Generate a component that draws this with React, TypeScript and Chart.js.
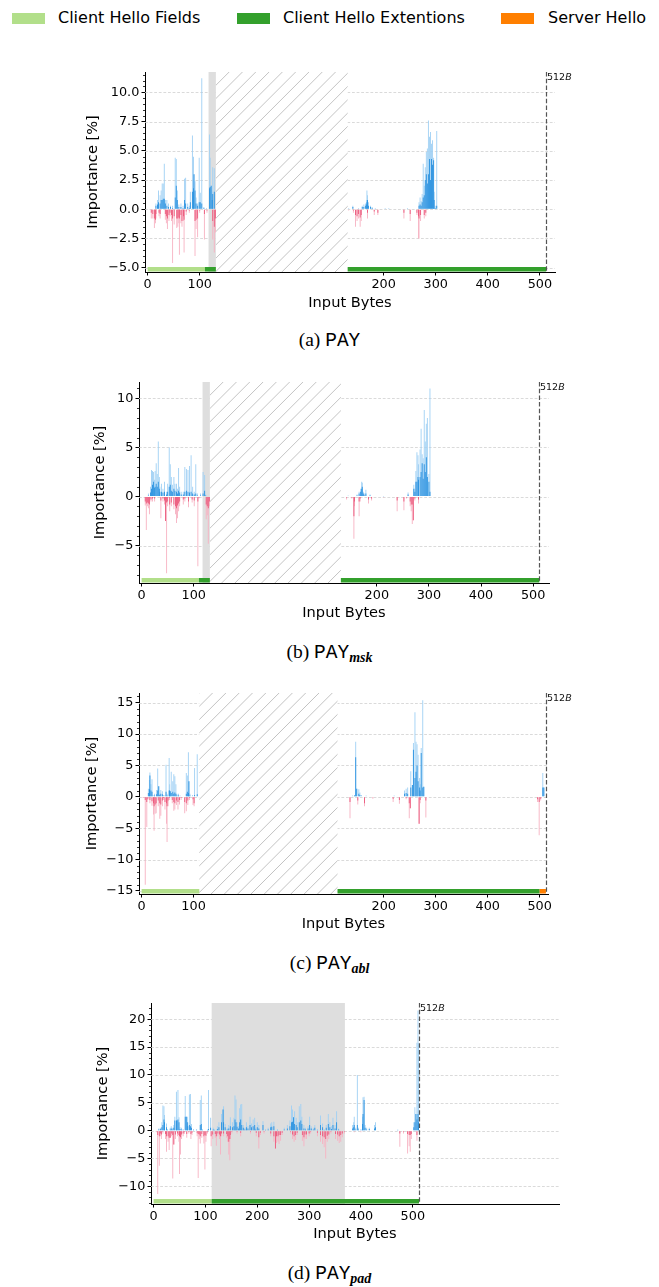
import React, { useEffect, useRef } from 'react';
import { Chart, registerables } from 'chart.js';
Chart.register(...registerables);

const FONT = "'DejaVu Sans', sans-serif";
const TICK_SIZE = 12.8;
const TITLE_SIZE = 14.6;
const C_FIELDS = '#b2df8a';
const C_EXT = '#33a02c';
const C_SERVER = '#ff7f00';
const POS_LIGHT = '#9fd0f4';
const POS_DARK = '#2a92e0';
const NEG_LIGHT = '#f7b2c2';
const NEG_DARK = '#ec5a7d';

const LEGEND_LABELS = ['Client Hello Fields', 'Client Hello Extentions', 'Server Hello'];
const LEGEND_COLORS = [C_FIELDS, C_EXT, C_SERVER];
const X_TICK_BYTES = [0, 100, 200, 300, 400, 500];
const X_TICK_LABELS = ['0', '100', '200', '300', '400', '500'];
const X_MIN = -5;
const X_MAX = 782;
const LIMIT_BYTE = 512;

// ---------- (a) PAY ----------
const aPosBytes = [16,19,21,24,26,28,30,32,34,37,40,44,48,53,55,57,60,64,68,71,73,77,80,82,86,88,89,91,93,96,99,101,104,108,113,119,120,122,124,125,128,
  133,141,152,159,162,165,167,168,169,171,175,178,184,203,210,246,268,270,272,274,276,278,280,282,284,286,288,290,292,294,296,297,299,302];
const aPosLight = [0.5,0.8,1.6,1.2,1.6,2.2,2.2,3.9,0.8,0.8,0.5,0.3,0.3,4.4,4.3,1.6,0.4,0.5,0.3,2.6,2.7,0.5,0.3,1.5,6.3,4.5,3.0,2.4,1.0,0.5,4.4,1.4,11.2,0.2,0.1,6.4,4.4,2.0,1.5,3.6,3.5,
  0.1,0.3,0.1,0.3,0.4,0.5,0.8,1.6,1.2,0.6,0.3,0.2,0.1,0.1,0.1,0.1,0.6,1.0,0.7,1.3,3.9,2.0,3.6,4.9,5.2,7.6,6.2,6.6,5.6,5.9,4.4,1.5,0.3,6.7];
const aPosDark = [0.3,0.4,0.6,0.5,0.8,0.8,0.9,0.9,0.5,0.3,0.2,0.2,0.1,1.0,2.0,0.8,0.2,0.2,0.1,0.8,0.5,0.2,0.1,0.6,1.5,1.8,3.0,1.6,0.5,0.3,0.6,0.6,0.5,0.1,0,1.8,1.9,2.0,0.8,1.3,1.5,
  0.05,0.2,0.05,0.2,0.2,0.3,0.4,0.6,0.8,0.3,0.2,0.1,0.05,0.05,0.05,0.05,0.3,0.4,0.3,0.6,1.0,1.2,2.5,3.0,2.2,3.0,4.3,2.5,4.3,3.8,4.2,0.8,0.1,0.3];
const aNegBytes = [7,10,13,15,16,22,24,34,36,38,41,43,46,48,51,56,58,60,61,64,66,69,70,74,80,91,93,96,100,109,114,125,128,130,
  133,142,146,149,152,155,157,169,182,189,239,251,264,267,268,271,278,281];
const aNegLight = [-0.8,-0.8,-1.6,-1.2,-0.8,-0.6,-0.8,-0.9,-1.2,-1.7,-1.0,-0.6,-1.0,-4.6,-1.3,-1.6,-1.5,-1.2,-3.9,-1.2,-1.5,-1.0,-3.7,-0.5,-0.3,-4.0,-1.7,-2.4,-0.3,-2.6,-0.3,-2.6,-3.7,-2.0,
  -0.1,-0.3,-1.5,-1.0,-0.8,-1.5,-1.0,-0.8,-0.5,-0.5,-0.8,-1.0,-0.5,-2.5,-2.5,-1.0,-0.8,-0.6];
const aNegDark = [-0.3,-0.4,-0.8,-0.9,-0.4,-0.3,-0.4,-0.4,-0.6,-0.8,-0.5,-0.3,-0.5,-0.8,-0.6,-0.8,-0.8,-0.7,-0.8,-0.5,-1.0,-0.6,-0.9,-0.2,-0.1,-1.0,-0.9,-0.8,-0.1,-0.4,-0.1,-1.0,-1.5,-0.8,
  -0.05,-0.1,-0.5,-0.6,-0.4,-0.7,-0.5,-0.3,-0.2,-0.3,-0.3,-0.4,-0.3,-0.6,-0.8,-0.5,-0.5,-0.3];
const aYTicks = [-5, -2.5, 0, 2.5, 5, 7.5, 10];
const aYLabels = ['\u22125.0', '\u22122.5', '0.0', '2.5', '5.0', '7.5', '10.0'];
const aYRange = [-5.37, 11.74];
const aBands = [[0, 110, C_FIELDS], [110, 131, C_EXT], [131, 512, C_EXT]];

// ---------- (b) PAY_msk ----------
const bPosBytes = [13,17,19,21,23,25,26,28,30,32,34,35,38,41,44,48,50,53,55,57,59,62,64,67,69,71,73,76,80,83,86,89,92,95,98,101,104,107,113,118,121,123,
  145,162,166,169,171,172,174,176,179,187,213,260,271,273,275,277,279,280,283,285,287,289,291,293,295,297,300,302];
const bPosLight = [0.3,1.0,2.7,2.6,2.5,1.7,2.6,3.4,2.3,5.6,2.0,1.0,1.3,0.8,1.5,0.5,1.3,5.0,3.3,2.0,1.2,2.0,1.3,1.3,0.8,2.9,1.0,0.5,0.5,3.0,2.8,2.7,3.1,4.2,1.0,0.5,3.3,0.3,0.3,2.5,2.2,0.2,
  0.1,0.2,0.5,0.8,1.5,1.4,0.5,0.3,0.7,0.2,0.05,0.4,1.2,0.8,2.6,4.5,4.2,3.3,4.8,6.9,4.3,3.9,8.8,5.6,7.4,8.0,2.3,11.0];
const bPosDark = [0.1,0.4,0.8,1.2,1.5,0.9,1.0,1.3,1.0,1.5,0.8,0.5,0.5,0.4,0.5,0.2,0.5,1.0,1.2,0.6,0.5,0.8,0.6,0.5,0.3,0.6,0.4,0.2,0.2,0.5,0.6,0.5,0.4,0.5,0.3,0.2,0.3,0.1,0.1,0.3,0.6,0.1,
  0.05,0.1,0.3,0.5,0.8,1.0,0.3,0.1,0.3,0.1,0.02,0.2,0.8,0.5,1.5,1.5,2.0,1.7,2.0,2.5,3.4,1.8,3.3,2.5,4.0,2.0,1.5,0.5];
const bNegBytes = [7,9,11,13,15,18,21,25,37,41,44,46,48,50,54,57,62,65,67,69,71,73,80,83,90,97,101,108,110,124,126,128,130,
  142,152,156,157,166,168,184,190,213,239,252,257,264,266,268,270,273,280];
const bNegLight = [-0.9,-3.4,-1.0,-1.2,-1.8,-0.5,-0.5,-0.5,-2.2,-0.5,-0.8,-2.5,-7.8,-1.0,-1.5,-1.0,-1.3,-1.8,-2.7,-2.2,-1.5,-1.0,-0.8,-0.5,-1.1,-0.6,-1.0,-7.1,-0.2,-2.3,-1.9,-4.8,-1.0,
  -0.3,-0.2,-4.3,-1.0,-2.0,-0.5,-0.7,-0.4,-0.1,-1.5,-1.4,-0.2,-1.0,-1.5,-2.8,-2.4,-0.4,-0.7];
const bNegDark = [-0.5,-0.7,-0.6,-0.7,-0.8,-0.3,-0.2,-0.2,-0.4,-0.2,-0.4,-2.5,-0.6,-0.5,-0.8,-0.6,-0.8,-1.0,-1.2,-0.9,-0.7,-0.5,-0.3,-0.2,-0.5,-0.3,-0.4,-0.5,-0.1,-0.8,-1.0,-1.2,-0.5,
  -0.1,-0.1,-2.0,-0.5,-0.5,-0.2,-0.3,-0.2,-0.05,-0.4,-0.5,-0.1,-0.5,-0.8,-0.8,-2.4,-0.2,-0.3];
const bYTicks = [-5, 0, 5, 10];
const bYLabels = ['\u22125', '0', '5', '10'];
const bYRange = [-8.8, 11.66];
const bBands = [[0, 110, C_FIELDS], [110, 131, C_EXT], [131, 512, C_EXT]];

// ---------- (c) PAY_abl ----------
const cPosBytes = [13,15,16,18,20,22,25,29,31,33,35,37,40,42,45,47,49,53,54,55,57,60,62,64,66,68,71,74,86,88,90,91,93,98,102,107,
  140,144,146,148,152,154,157,166,220,240,243,246,252,255,257,260,262,264,266,269,270,272,275,277,506,508];
const cPosLight = [1.3,2.7,3.9,2.0,2.8,0.3,0.5,1.1,4.5,1.7,0.5,1.1,0.9,0.3,0.3,5.1,0.5,6.2,2.0,0.9,4.0,2.5,3.6,3.3,2.0,0.5,0.5,0.2,3.8,3.4,7.1,2.5,0.5,0.3,4.6,6.8,
  0.2,0.3,8.8,1.3,1.2,0.7,0.3,0.2,0.2,1.0,1.3,1.5,4.1,1.9,8.6,13.5,8.8,8.4,6.7,3.0,2.0,7.8,15.4,1.6,3.8,1.5];
const cPosDark = [0.6,1.2,3.4,1.0,0.8,0.1,0.2,0.4,1.0,1.7,0.3,0.5,0.4,0.1,0.1,0.8,0.2,1.0,1.0,0.9,0.6,0.8,0.5,0.7,0.5,0.2,0.2,0.1,0.5,0.8,0.6,2.5,0.2,0.1,0.3,0.4,
  0.1,0.2,6.3,1.3,0.5,0.3,0.1,0.1,0.1,0.5,0.6,0.5,1.5,1.9,7.5,3.0,4.0,5.0,2.5,1.5,1.0,7.0,1.5,1.6,1.5,1.5];
const cNegBytes = [3,7,10,12,16,20,23,24,26,28,32,35,37,40,42,45,48,49,51,54,59,62,64,67,70,73,76,83,86,89,92,99,101,
  135,150,163,179,218,230,243,249,251,268,270,281,496,499,502];
const cNegLight = [-0.2,-14.0,-4.8,-0.5,-1.0,-1.4,-2.8,-5.4,-2.7,-2.6,-1.5,-3.5,-3.0,-1.5,-0.5,-2.0,-4.3,-7.2,-1.5,-0.5,-1.0,-2.2,-2.0,-1.3,-2.0,-1.2,-0.5,-2.6,-2.3,-1.3,-0.5,-1.3,-1.5,
  -3.4,-1.2,-1.5,-0.3,-0.8,-1.1,-0.4,-3.4,-1.8,-4.3,-1.0,-3.3,-0.8,-6.1,-0.6];
const cNegDark = [-0.1,-0.5,-0.8,-0.3,-0.5,-0.7,-1.0,-1.5,-1.2,-1.0,-0.6,-1.0,-1.2,-0.6,-0.2,-0.8,-1.0,-1.5,-0.6,-0.2,-0.5,-0.8,-1.0,-0.6,-0.8,-0.5,-0.2,-0.8,-1.0,-0.6,-0.2,-0.4,-1.0,
  -0.8,-0.6,-1.0,-0.1,-0.3,-0.5,-0.2,-1.0,-1.8,-4.3,-0.5,-0.6,-0.4,-0.8,-0.3];
const cYTicks = [-15, -10, -5, 0, 5, 10, 15];
const cYLabels = ['\u221215', '\u221210', '\u22125', '0', '5', '10', '15'];
const cYRange = [-15.48, 16.55];
const cBands = [[0, 111, C_FIELDS], [111, 500, C_EXT], [500, 512, C_SERVER]];

// ---------- (d) PAY_pad ----------
const dPosBytes = [10,13,16,18,20,21,25,27,32,34,36,39,41,44,45,47,49,51,54,57,61,63,65,66,69,71,73,77,83,90,
  92,94,104,106,110,115,117,123,126,131,134,135,138,142,145,148,152,155,157,159,161,164,166,168,170,173,176,179,182,186,
  189,192,195,197,200,203,211,216,221,226,228,232,239,252,258,263,266,268,270,272,275,277,281,284,286,290,293,298,301,304,
  308,311,316,322,326,329,333,337,340,343,346,350,353,357,384,386,387,390,393,395,400,403,404,406,408,411,416,426,428,438,
  471,502,504,506,508,510,511];
const dPosLight = [0.4,0.5,1.5,4.5,4.4,2.8,1.3,0.3,0.5,0.8,0.5,1.0,2.5,7.0,1.8,7.3,2.4,0.6,0.5,0.3,6.2,2.5,2.5,1.5,6.5,6.6,1.2,0.3,0.3,5.5,
  6.3,0.3,0.2,7.3,2.3,0.5,0.3,0.8,1.5,3.0,3.8,4.4,1.2,0.5,1.0,2.4,1.5,2.3,6.3,5.6,1.5,0.8,4.0,4.7,4.8,1.0,0.5,1.5,0.8,2.5,
  1.3,2.0,2.3,0.5,1.5,1.0,1.7,0.3,0.5,1.3,1.5,1.6,0.3,0.5,1.0,1.8,4.5,3.8,2.4,3.5,2.3,1.5,4.4,4.8,2.5,1.0,0.5,0.8,2.5,0.8,
  0.5,1.0,0.3,2.7,1.3,0.3,1.0,3.0,1.5,0.8,2.3,1.0,3.5,0.4,1.0,1.5,2.5,0.5,10.0,0.5,0.3,2.5,6.0,6.1,1.0,0.5,0.5,1.0,1.5,0.1,
  0.2,1.5,4.2,3.0,15.8,21.6,15.7];
const dPosDark = [0.2,0.3,0.6,1.0,2.0,1.5,0.6,0.1,0.2,0.4,0.2,0.5,1.8,1.8,1.8,2.0,1.5,0.3,0.2,0.1,2.5,2.5,1.5,0.8,1.0,0.8,0.5,0.1,0.1,1.0,
  1.2,0.1,0.1,0.3,0.5,0.2,0.1,0.3,0.6,1.5,3.8,1.5,0.6,0.2,0.4,0.8,0.6,0.8,2.0,1.5,0.7,0.4,1.5,2.0,1.0,0.5,0.2,0.6,0.4,1.0,
  0.6,0.8,1.0,0.2,0.6,0.4,1.0,0.1,0.2,0.6,0.7,0.8,0.1,0.2,0.4,0.8,1.5,1.6,2.4,1.2,1.0,0.6,1.5,1.8,1.2,0.4,0.2,0.4,1.0,0.4,
  0.2,0.5,0.1,1.0,0.6,0.1,0.5,1.2,0.6,0.3,1.0,0.4,1.5,0.2,0.4,0.6,1.0,0.2,1.0,0.2,0.1,1.2,3.0,5.5,0.5,0.2,0.3,0.4,0.6,0.05,
  0.1,0.6,1.5,3.0,2.0,3.0,1.5];
const dNegBytes = [6,8,11,13,15,18,23,25,28,30,32,35,37,39,42,46,49,50,52,54,57,59,64,68,72,74,84,86,88,90,
  93,97,99,101,104,111,114,119,121,124,127,129,131,135,141,143,145,147,148,151,161,168,187,198,203,206,213,226,232,235,
  237,240,242,245,248,264,268,271,274,277,287,290,292,295,300,303,316,322,326,329,332,335,338,342,351,355,358,361,364,368,
  387,400,475,482,490,493,495,497,508];
const dNegLight = [-0.3,-11.4,-6.3,-1.0,-1.5,-0.5,-1.5,-3.8,-2.0,-3.5,-1.3,-1.0,-8.6,-2.5,-1.5,-1.0,-2.0,-7.8,-4.3,-1.5,-1.0,-0.6,-1.3,-0.5,-1.5,-0.8,-1.0,-8.5,-1.5,-2.3,
  -1.3,-2.3,-7.0,-2.0,-0.5,-2.8,-1.5,-1.3,-2.7,-1.0,-1.5,-4.3,-1.0,-1.0,-1.3,-2.0,-4.3,-5.3,-1.5,-0.5,-0.5,-1.0,-0.5,-1.0,-3.2,-0.8,-0.5,-1.0,-2.0,-3.2,
  -2.2,-2.0,-2.4,-1.8,-0.8,-0.5,-1.5,-2.0,-1.7,-0.8,-1.8,-2.8,-1.5,-1.5,-1.0,-0.5,-1.0,-2.0,-2.4,-3.0,-5.0,-2.0,-1.5,-0.5,-1.5,-1.8,-2.2,-2.0,-1.2,-0.5,
  -0.3,-0.3,-2.9,-0.5,-4.1,-2.8,-3.8,-1.5,-1.8];
const dNegDark = [-0.1,-0.8,-1.0,-0.5,-0.7,-0.2,-0.6,-1.0,-1.0,-1.3,-1.3,-0.5,-0.8,-2.5,-0.7,-0.5,-0.8,-1.0,-1.2,-0.7,-0.5,-0.3,-0.6,-0.2,-0.6,-0.4,-0.4,-0.6,-0.7,-1.0,
  -0.6,-1.0,-0.8,-0.9,-0.2,-1.0,-0.7,-0.6,-1.0,-0.5,-0.7,-1.0,-0.5,-0.5,-0.6,-1.0,-2.0,-1.5,-0.8,-0.2,-0.2,-0.4,-0.2,-0.4,-1.2,-0.4,-0.2,-0.5,-1.0,-3.2,
  -1.0,-1.0,-0.8,-0.8,-0.4,-0.2,-0.7,-1.0,-0.8,-0.4,-0.8,-1.2,-0.7,-0.7,-0.5,-0.2,-0.4,-0.8,-1.0,-1.2,-1.5,-0.9,-0.7,-0.2,-0.6,-0.7,-1.0,-0.8,-0.5,-0.2,
  -0.1,-0.1,-0.5,-0.2,-0.6,-0.8,-0.8,-0.6,-0.8];
const dYTicks = [-10, -5, 0, 5, 10, 15, 20];
const dYLabels = ['\u221210', '\u22125', '0', '5', '10', '15', '20'];
const dYRange = [-13.18, 22.93];
const dBands = [[0, 112, C_FIELDS], [112, 512, C_EXT]];

const CAPTION_LETTERS = ['(a)', '(b)', '(c)', '(d)'];
const CAPTION_SUBS = ['', 'msk', 'abl', 'pad'];

const PANELS: any[] = [
  { pos: [aPosBytes, aPosLight, aPosDark], neg: [aNegBytes, aNegLight, aNegDark], yTicks: aYTicks, yLabels: aYLabels, yRange: aYRange, minor: 0.5,
    gapAt: 131, shift: 253, gray: [117, 131], bands: aBands,
    geom: { canvasTop: 50, top: 72, bottom: 272, left: 145, right: 555, yTitleX: 93, xTitleY: 303.5, capY: 342 } },
  { pos: [bPosBytes, bPosLight, bPosDark], neg: [bNegBytes, bNegLight, bNegDark], yTicks: bYTicks, yLabels: bYLabels, yRange: bYRange, minor: 1,
    gapAt: 131, shift: 251.5, gray: [117, 131], bands: bBands,
    geom: { canvasTop: 360, top: 382, bottom: 583, left: 139, right: 549, yTitleX: 100, xTitleY: 614, capY: 654 } },
  { pos: [cPosBytes, cPosLight, cPosDark], neg: [cNegBytes, cNegLight, cNegDark], yTicks: cYTicks, yLabels: cYLabels, yRange: cYRange, minor: 1,
    gapAt: 111, shift: 266, gray: null, bands: cBands,
    geom: { canvasTop: 670, top: 693, bottom: 894, left: 139, right: 548, yTitleX: 91.8, xTitleY: 924.8, capY: 965 } },
  { pos: [dPosBytes, dPosLight, dPosDark], neg: [dNegBytes, dNegLight, dNegDark], yTicks: dYTicks, yLabels: dYLabels, yRange: dYRange, minor: 1,
    gapAt: null, shift: 0, gray: [112, 369], bands: dBands,
    geom: { canvasTop: 980, top: 1003, bottom: 1204, left: 151, right: 559, yTitleX: 103.5, xTitleY: 1234.8, capY: 1275 } },
];

function canvasHeight(p: any) {
  return Math.round(p.geom.xTitleY + TITLE_SIZE / 2 - p.geom.canvasTop);
}

function makeChart(canvas: HTMLCanvasElement, p: any) {
  const g = p.geom;
  const H = canvasHeight(p);
  const disp = (b: number) => (p.gapAt !== null && b >= p.gapAt ? b + p.shift : b);
  const dispEnd = (b: number) => (p.gapAt !== null && b > p.gapAt ? b + p.shift : b);
  const mk = (bytes: number[], vals: number[]) => bytes.map((b, i) => ({ x: disp(b), y: vals[i] }));
  const padTop = g.top - g.canvasTop;
  const hx = H - (g.bottom - g.canvasTop);
  const padL = g.yTitleX - TITLE_SIZE / 2;
  const wy = g.left - padL;
  const common = { barThickness: 0.9, grouped: false, borderWidth: 0, inflateAmount: 0 };

  const plugin = {
    id: 'decor',
    beforeDatasetsDraw(chart: any) {
      const { ctx, chartArea: ca, scales } = chart;
      const x = scales.x, y = scales.y;
      ctx.save();
      ctx.strokeStyle = '#d0d0d0';
      ctx.lineWidth = 0.8;
      ctx.setLineDash([2.8, 1.8]);
      for (const v of p.yTicks) {
        const py = Math.round(y.getPixelForValue(v)) + 0.5;
        ctx.beginPath(); ctx.moveTo(ca.left, py); ctx.lineTo(ca.right, py); ctx.stroke();
      }
      ctx.setLineDash([]);
      if (p.gapAt !== null) {
        const x1 = x.getPixelForValue(p.gapAt), x2 = x.getPixelForValue(p.gapAt + p.shift);
        ctx.save();
        ctx.fillStyle = '#ffffff';
        ctx.fillRect(x1, ca.top, x2 - x1, ca.bottom - ca.top);
        ctx.beginPath(); ctx.rect(x1, ca.top, x2 - x1, ca.bottom - ca.top); ctx.clip();
        ctx.strokeStyle = '#c0c0c0'; ctx.lineWidth = 0.95;
        const h = ca.bottom - ca.top;
        for (let sx = x1 - h; sx < x2 + 2; sx += 13.3) {
          ctx.beginPath(); ctx.moveTo(sx, ca.bottom); ctx.lineTo(sx + h, ca.top); ctx.stroke();
        }
        ctx.restore();
      }
      if (p.gray) {
        const x1 = x.getPixelForValue(disp(p.gray[0])), x2 = x.getPixelForValue(dispEnd(p.gray[1]));
        ctx.fillStyle = '#dedede';
        ctx.fillRect(x1, ca.top, x2 - x1, ca.bottom - ca.top);
      }
      ctx.restore();
    },
    afterDatasetsDraw(chart: any) {
      const { ctx, chartArea: ca, scales } = chart;
      const x = scales.x;
      ctx.save();
      for (const [s, e, col] of p.bands) {
        const x1 = x.getPixelForValue(disp(s)), x2 = x.getPixelForValue(dispEnd(e));
        ctx.fillStyle = col;
        ctx.fillRect(x1, ca.bottom - 5, x2 - x1, 4.5);
      }
      const lx = Math.round(x.getPixelForValue(disp(LIMIT_BYTE))) + 0.5;
      ctx.strokeStyle = '#555555'; ctx.lineWidth = 1.2; ctx.setLineDash([4.5, 2.2]);
      ctx.beginPath(); ctx.moveTo(lx, ca.top); ctx.lineTo(lx, ca.bottom); ctx.stroke();
      ctx.setLineDash([]);
      ctx.fillStyle = '#111';
      ctx.textBaseline = 'alphabetic';
      ctx.font = `9.5px ${FONT}`;
      ctx.fillText(String(LIMIT_BYTE), lx + 0.5, ca.top + 7.5);
      const w = ctx.measureText(String(LIMIT_BYTE)).width;
      ctx.font = `italic 9.5px ${FONT}`;
      ctx.fillText('B', lx + 0.5 + w, ca.top + 7.5);
      ctx.restore();
    },
    afterDraw(chart: any) {
      const { ctx, chartArea: ca, scales } = chart;
      const y = scales.y;
      ctx.save();
      ctx.strokeStyle = '#000'; ctx.lineWidth = 0.8;
      const start = Math.ceil(p.yRange[0] / p.minor) * p.minor;
      for (let v = start; v <= p.yRange[1] + 1e-9; v += p.minor) {
        const isMajor = p.yTicks.some((t: number) => Math.abs(t - v) < 1e-6);
        if (isMajor) continue;
        const py = Math.round(y.getPixelForValue(v)) + 0.5;
        ctx.beginPath(); ctx.moveTo(ca.left - 2, py); ctx.lineTo(ca.left, py); ctx.stroke();
      }
      ctx.restore();
    },
  };

  return new Chart(canvas, {
    type: 'bar',
    data: {
      datasets: [
        { label: 'pos-dark', data: mk(p.pos[0], p.pos[2]), backgroundColor: POS_DARK, order: 1, ...common },
        { label: 'neg-dark', data: mk(p.neg[0], p.neg[2]), backgroundColor: NEG_DARK, order: 1, ...common },
        { label: 'pos-light', data: mk(p.pos[0], p.pos[1]), backgroundColor: POS_LIGHT, order: 2, ...common },
        { label: 'neg-light', data: mk(p.neg[0], p.neg[1]), backgroundColor: NEG_LIGHT, order: 2, ...common },
      ] as any,
    },
    options: {
      animation: false,
      responsive: false,
      events: [],
      layout: { padding: { left: padL, right: 659 - g.right, top: padTop, bottom: 0 } },
      plugins: { legend: { display: false }, tooltip: { enabled: false } },
      scales: {
        x: {
          type: 'linear', min: X_MIN, max: X_MAX, offset: false,
          grid: { display: true, drawOnChartArea: false, drawTicks: true, tickLength: 3.5, tickColor: '#000', tickWidth: 1, offset: false },
          border: { display: true, color: '#000', width: 1 },
          ticks: { autoSkip: false, maxRotation: 0, padding: 1, color: '#000', font: { family: FONT, size: TICK_SIZE }, callback: (_v: any, i: number) => X_TICK_LABELS[i] },
          afterBuildTicks: (s: any) => { s.ticks = X_TICK_BYTES.map((b) => ({ value: disp(b) })); },
          afterFit: (s: any) => { s.height = hx; },
          title: { display: true, text: 'Input Bytes', color: '#000', font: { family: FONT, size: TITLE_SIZE, lineHeight: 1 }, padding: 0 },
        },
        y: {
          type: 'linear', min: p.yRange[0], max: p.yRange[1],
          grid: { display: true, drawOnChartArea: false, drawTicks: true, tickLength: 3.5, tickColor: '#000', tickWidth: 1 },
          border: { display: true, color: '#000', width: 1 },
          ticks: { autoSkip: false, padding: 2.2, color: '#000', font: { family: FONT, size: TICK_SIZE }, callback: (_v: any, i: number) => p.yLabels[i] },
          afterBuildTicks: (s: any) => { s.ticks = p.yTicks.map((v: number) => ({ value: v })); },
          afterFit: (s: any) => { s.width = wy; },
          title: { display: true, text: 'Importance [%]', color: '#000', font: { family: FONT, size: TITLE_SIZE, lineHeight: 1 }, padding: 0 },
        },
      },
    } as any,
    plugins: [plugin],
  });
}

export default function App() {
  const refs = useRef<(HTMLCanvasElement | null)[]>([]);
  useEffect(() => {
    const charts = PANELS.map((p, i) => makeChart(refs.current[i] as HTMLCanvasElement, p));
    return () => charts.forEach((c) => c.destroy());
  }, []);

  const legendPatchX = [12, 237, 501];
  const legendTextX = [58, 283, 548];

  return (
    <div style={{ position: 'absolute', left: 0, top: 0, width: 659, height: 1287, background: '#fff', overflow: 'hidden' }}>
      {LEGEND_LABELS.map((lab, i) => (
        <React.Fragment key={lab}>
          <div style={{ position: 'absolute', left: legendPatchX[i], top: 12.5, width: 32.5, height: 11, background: LEGEND_COLORS[i] }} />
          <span style={{ position: 'absolute', left: legendTextX[i], top: 8.3, fontFamily: FONT, fontSize: 16, lineHeight: '20px', whiteSpace: 'nowrap', color: '#000' }}>{lab}</span>
        </React.Fragment>
      ))}
      {PANELS.map((p, i) => (
        <React.Fragment key={i}>
          <canvas
            ref={(el) => { refs.current[i] = el; }}
            width={659}
            height={canvasHeight(p)}
            style={{ position: 'absolute', left: 0, top: p.geom.canvasTop, width: 659, height: canvasHeight(p) }}
          />
          <div style={{ position: 'absolute', left: 0, width: 659, top: p.geom.capY - 13, textAlign: 'center', fontFamily: "'Liberation Serif', 'DejaVu Serif', serif", fontSize: 19.5, lineHeight: '22px', color: '#000', whiteSpace: 'nowrap' }}>
            {CAPTION_LETTERS[i]}{' '}
            <span style={{ fontFamily: "'Liberation Mono', 'DejaVu Sans Mono', monospace", fontSize: 19.5 }}>PAY</span>
            {CAPTION_SUBS[i] ? (
              <span style={{ fontFamily: "'Liberation Serif', serif", fontStyle: 'italic', fontWeight: 'bold', fontSize: 14, position: 'relative', top: 4 }}>{CAPTION_SUBS[i]}</span>
            ) : null}
          </div>
        </React.Fragment>
      ))}
    </div>
  );
}
